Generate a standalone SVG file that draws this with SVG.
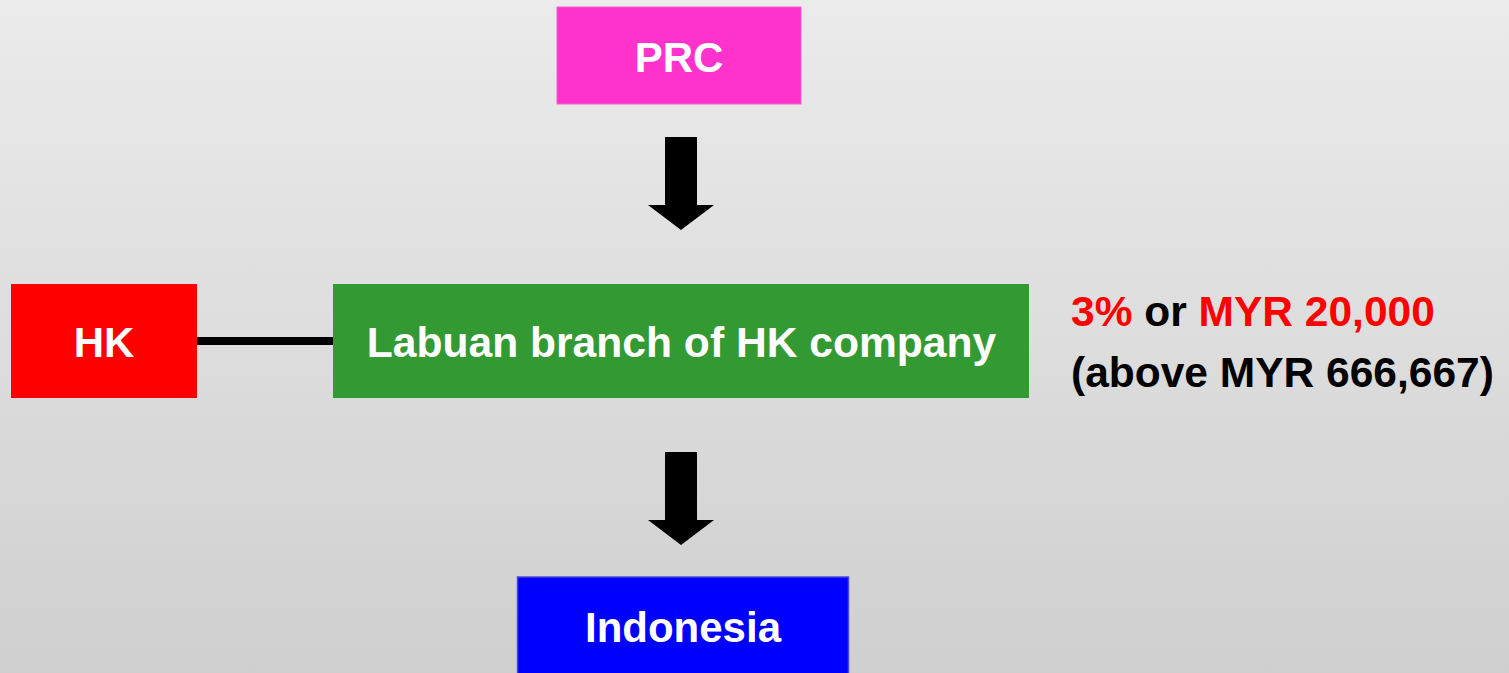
<svg xmlns="http://www.w3.org/2000/svg" width="1509" height="673" viewBox="0 0 1509 673">
<defs>
<linearGradient id="bg" x1="0" y1="0" x2="0" y2="1">
<stop offset="0" stop-color="#ebebeb"/>
<stop offset="1" stop-color="#cfcfcf"/>
</linearGradient>
<style>
.lbl{font-family:"Liberation Sans",Arial,sans-serif;font-weight:bold;font-size:42px;fill:#fff;text-anchor:middle}
.wide{font-size:42.6px}
.note{font-family:"Liberation Sans",Arial,sans-serif;font-weight:bold;font-size:42.5px;fill:#000}
.red{fill:#ff0000}
.arrow{fill:#000}
</style>
</defs>
<rect x="0" y="0" width="1509" height="673" fill="url(#bg)"/>
<g id="connectors">
<line x1="196" y1="341" x2="334" y2="341" stroke="#000" stroke-width="8"/>
<polygon class="arrow" points="665,137 697,137 697,205 714,205 681,230 648,205 665,205"/>
<polygon class="arrow" points="665,452 697,452 697,520 714,520 681,545 648,520 665,520"/>
</g>
<g id="prc">
<rect x="557" y="7" width="244" height="97" fill="#ff33cc" stroke="#f060d0" stroke-width="1"/>
<text class="lbl" x="679" y="72">PRC</text>
</g>
<g id="hk">
<rect x="11" y="284" width="186" height="114" fill="#ff0000"/>
<text class="lbl" x="104" y="357">HK</text>
</g>
<g id="labuan">
<rect x="333" y="284" width="696" height="114" fill="#339933"/>
<text class="lbl wide" x="681.5" y="357">Labuan branch of HK company</text>
</g>
<g id="indonesia">
<rect x="517.5" y="577" width="331" height="100" fill="#0000ff" stroke="#4a4ad8" stroke-width="1.5"/>
<text class="lbl" x="683" y="642">Indonesia</text>
</g>
<g id="note">
<text class="note" x="1071" y="326"><tspan class="red">3%</tspan> or <tspan class="red">MYR 20,000</tspan></text>
<text class="note" x="1071" y="387">(above MYR 666,667)</text>
</g>
</svg>
